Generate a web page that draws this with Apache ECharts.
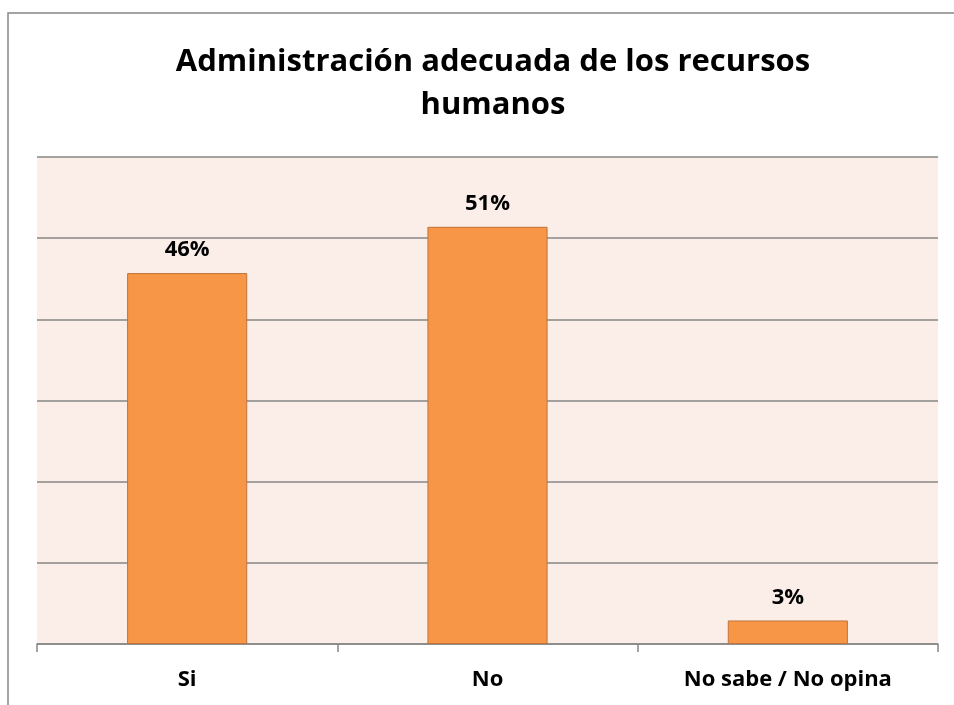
<!DOCTYPE html>
<html>
<head>
<meta charset="utf-8">
<script src="https://cdn.jsdelivr.net/npm/echarts@6/dist/echarts.min.js"></script>
<style>
    html, body { margin: 0; padding: 0; background: #fff; }
    #chart { width: 954px; height: 705px; }
</style>
</head>
<body>
<div id="chart"></div>
<script>
    // data
    var categories = ['Si', 'No', 'No sabe / No opina'];
    var values = [0.457, 0.514, 0.029];
    var titleLines = ['Administración adecuada de los recursos', 'humanos'];

    var chart = echarts.init(document.getElementById('chart'));
    var fontFamily = '"Open Sans", "Liberation Sans", sans-serif';

    chart.setOption({
        animation: false,
        backgroundColor: '#ffffff',
        title: {
            text: titleLines.join('\n'),
            left: 488,
            top: 36,
            textAlign: 'center',
            textStyle: {
                fontFamily: fontFamily,
                fontSize: 31,
                fontWeight: 'bold',
                color: '#000',
                lineHeight: 43
            }
        },
        graphic: [
            {
                type: 'rect',
                silent: true,
                shape: { x: 8, y: 13, width: 1200, height: 1200 },
                style: { fill: 'none', stroke: '#868686', lineWidth: 1.5 }
            }
        ],
        grid: {
            left: 37,
            right: 16,
            top: 157,
            bottom: 61,
            show: true,
            backgroundColor: '#fbede8',
            borderWidth: 0
        },
        xAxis: {
            type: 'category',
            data: categories,
            axisLine: { lineStyle: { color: '#868686', width: 1.5 } },
            axisTick: { show: true, length: 8, lineStyle: { color: '#868686', width: 1.5 } },
            axisLabel: {
                margin: 25,
                fontFamily: fontFamily,
                fontSize: 22,
                fontWeight: 'bold',
                color: '#000'
            }
        },
        yAxis: {
            type: 'value',
            min: 0,
            max: 0.6,
            interval: 0.1,
            axisLine: { show: false },
            axisTick: { show: false },
            axisLabel: { show: false },
            splitLine: { lineStyle: { color: '#868686', width: 1.5 } }
        },
        series: [
            {
                type: 'bar',
                data: values,
                barWidth: '40%',
                itemStyle: {
                    color: '#f79646',
                    borderColor: '#c0733a',
                    borderWidth: 1
                },
                label: {
                    show: true,
                    position: 'top',
                    distance: 12,
                    fontFamily: fontFamily,
                    fontSize: 22,
                    fontWeight: 'bold',
                    color: '#000',
                    formatter: function (p) {
                        return Math.round(p.value * 100) + '%';
                    }
                }
            }
        ]
    });
</script>
</body>
</html>
